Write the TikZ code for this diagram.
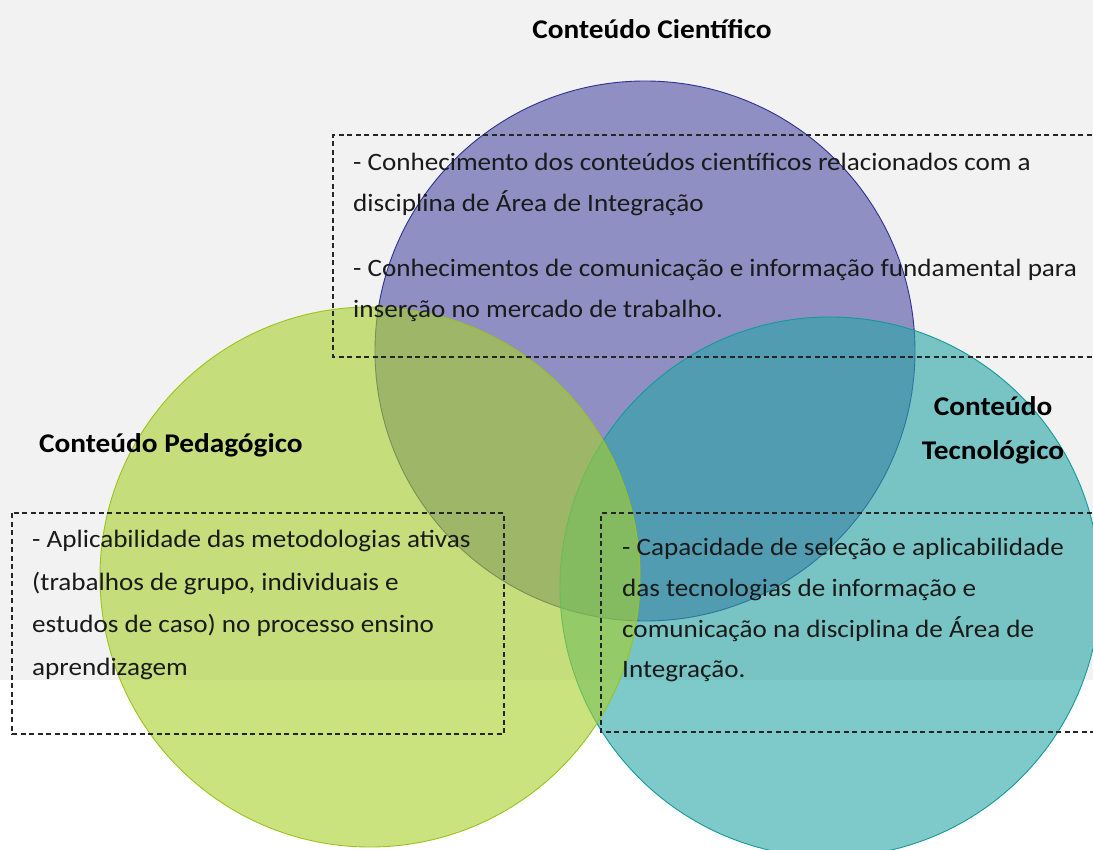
\documentclass[tikz,border=0pt]{standalone}
\usepackage{fontspec}
\setmainfont{Carlito}[FakeStretch=1.085]
\definecolor{bggray}{HTML}{F2F2F2}
\definecolor{purpfill}{RGB}{77,77,165}
\definecolor{purpedge}{HTML}{2E3192}
\definecolor{greenfill}{RGB}{168,208,42}
\definecolor{greenedge}{HTML}{9BC31C}
\definecolor{tealfill}{RGB}{40,165,165}
\definecolor{tealedge}{HTML}{149A9A}
\definecolor{txt}{HTML}{1A1A1A}
\begin{document}
\begin{tikzpicture}[x=1pt,y=-1pt,
  venn/.style={fill opacity=0.6, line width=0.9pt},
  dashbox/.style={draw=black!85, dash pattern=on 5pt off 3.5pt, line width=1.1pt},
  body/.style={anchor=base west, inner sep=0pt, text=txt, font=\fontsize{25}{30}\selectfont},
  title/.style={anchor=base, inner sep=0pt, text=black, font=\bfseries\fontsize{27}{32}\selectfont}]
\useasboundingbox (0,0) rectangle (1093,850);
\fill[bggray] (0,0) rectangle (1093,680);
% circles
\draw[venn, fill=purpfill, draw=purpedge] (645,351) circle (270);
\draw[venn, fill=tealfill, draw=tealedge] (830,587) circle (270);
\draw[venn, fill=greenfill, draw=greenedge] (370,577) circle (270);
% dashed boxes
\draw[dashbox] (1100,135) -- (333,135) -- (333,357) -- (1100,357);
\draw[dashbox] (12,513) rectangle (504,734);
\draw[dashbox] (1100,513) -- (601,513) -- (601,732) -- (1100,732);
% titles
\node[title] (tc) at (652,39) {Conteúdo Científico};
\node[title, anchor=base west] (tp) at (39,452) {Conteúdo Pedagógico};
\node[title] (tt1) at (993,415) {Conteúdo};
\node[title] (tt2) at (993,459) {Tecnológico};
% box 1 text
\node[body] (c1) at (353,171) {- Conhecimento dos conteúdos científicos relacionados com a};
\node[body] (c2) at (353,212) {disciplina de Área de Integração};
\node[body] (c3) at (353,277) {- Conhecimentos de comunicação e informação fundamental para};
\node[body] (c4) at (353,318) {inserção no mercado de trabalho.};
% box 2 text
\node[body] (p1) at (32,547) {- Aplicabilidade das metodologias ativas};
\node[body] (p2) at (32,590) {(trabalhos de grupo, individuais e};
\node[body] (p3) at (32,632) {estudos de caso) no processo ensino};
\node[body] (p4) at (32,675) {aprendizagem};
% box 3 text
\node[body] (t1) at (622,555) {- Capacidade de seleção e aplicabilidade};
\node[body] (t2) at (622,596) {das tecnologias de informação e};
\node[body] (t3) at (622,637) {comunicação na disciplina de Área de};
\node[body] (t4) at (622,677) {Integração.};
\end{tikzpicture}
\end{document}
